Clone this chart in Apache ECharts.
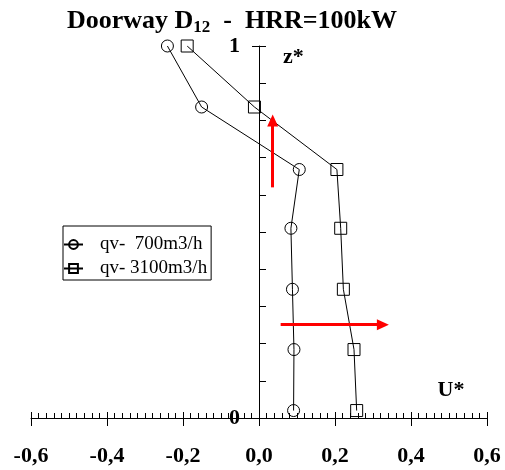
<!DOCTYPE html>
<html>
<head>
<meta charset="utf-8">
<script src="https://cdn.jsdelivr.net/npm/echarts@6/dist/echarts.min.js"></script>
<style>
  html, body { margin: 0; padding: 0; background: #fff; }
  #chart { width: 505px; height: 470px; }
</style>
</head>
<body>
<div id="chart"></div>
<script>
// heights (z*) shared by both profiles
const zLevels = [1.0, 0.836, 0.668, 0.51, 0.346, 0.184, 0.02];
const u700 = [-0.241, -0.151, 0.106, 0.084, 0.088, 0.092, 0.091];
const u3100 = [-0.189, -0.012, 0.205, 0.215, 0.222, 0.25, 0.257];
const seriesNames = ['qv-  700m3/h', 'qv- 3100m3/h'];
// red annotation arrows, [start, end] in data coords
const arrowUp = [[0.036, 0.62], [0.036, 0.80]];
const arrowRight = [[0.057, 0.251], [0.326, 0.251]];

const FONT = '"Liberation Serif", "Times New Roman", serif';

const toPairs = (us) => us.map((u, i) => [u, zLevels[i]]);
const toArrow = (a) => [{ coord: a[0] }, { coord: a[1] }];

const fmtX = (v) => {
  const val = Math.abs(v) < 1e-9 ? 0 : v;
  return val.toFixed(1).replace('.', ',');
};

// grid is 456px wide for -0.6..0.6, so U=0 sits 228px in from the left edge
const Z_AXIS_SHIFT = -228;

const chart = echarts.init(document.getElementById('chart'));

const hollow = {
  color: 'rgba(0,0,0,0)',
  borderColor: '#000',
  borderWidth: 1
};

chart.setOption({
  animation: false,
  backgroundColor: '#fff',
  title: {
    left: 67,
    top: 6,
    padding: 0,
    text: '{a|Doorway D}{s|12}{a|  -  HRR=100kW}',
    textStyle: {
      rich: {
        a: { fontFamily: FONT, fontWeight: 'bold', fontSize: 26, lineHeight: 30, color: '#000' },
        s: { fontFamily: FONT, fontWeight: 'bold', fontSize: 17, lineHeight: 20, verticalAlign: 'bottom', color: '#000' }
      }
    }
  },
  legend: {
    left: 63,
    top: 226,
    orient: 'vertical',
    borderColor: '#000',
    borderWidth: 1,
    borderRadius: 0,
    padding: [9, 4, 2, 0],
    itemGap: 5,
    itemWidth: 19,
    itemHeight: 11,
    selectedMode: false,
    textStyle: { fontFamily: FONT, fontSize: 19, color: '#000', padding: [0, 0, 0, 12] },
    data: seriesNames
  },
  grid: { left: 31, right: 18, top: 46, bottom: 52, outerBoundsMode: 'none' },
  xAxis: [
    {
      type: 'value',
      position: 'bottom',
      min: -0.6,
      max: 0.6,
      interval: 0.2,
      name: 'U*',
      nameLocation: 'end',
      nameGap: -36,
      nameMoveOverlap: false,
      nameTextStyle: {
        fontFamily: FONT, fontWeight: 'bold', fontSize: 22, color: '#000',
        align: 'center', verticalAlign: 'bottom', padding: [0, 0, 17, 0]
      },
      axisLine: { onZero: true, lineStyle: { color: '#000', width: 1 } },
      axisTick: { inside: true, length: 6, lineStyle: { color: '#000' } },
      minorTick: { show: true, splitNumber: 10, length: 5, lineStyle: { color: '#000' } },
      splitLine: { show: false },
      axisLabel: {
        margin: 27,
        fontFamily: FONT, fontWeight: 'bold', fontSize: 22, color: '#000',
        formatter: fmtX
      }
    },
    {
      // major ticks hanging below the axis line
      type: 'value',
      position: 'top',
      min: -0.6,
      max: 0.6,
      interval: 0.2,
      axisLine: { show: false, onZero: true },
      axisTick: { inside: true, length: 8, lineStyle: { color: '#000' } },
      splitLine: { show: false },
      axisLabel: { show: false }
    }
  ],
  yAxis: [
    {
      type: 'value',
      position: 'left',
      offset: Z_AXIS_SHIFT,
      min: 0,
      max: 1,
      interval: 0.1,
      name: 'z*',
      nameLocation: 'end',
      nameGap: -11,
      nameMoveOverlap: false,
      nameTextStyle: {
        fontFamily: FONT, fontWeight: 'bold', fontSize: 22, color: '#000',
        align: 'left', verticalAlign: 'middle', padding: [0, 0, 0, 24]
      },
      axisLine: { onZero: false, lineStyle: { color: '#000', width: 1 } },
      axisTick: { inside: true, length: 7, lineStyle: { color: '#000' } },
      splitLine: { show: false },
      axisLabel: {
        margin: 19,
        fontFamily: FONT, fontWeight: 'bold', fontSize: 22, color: '#000',
        formatter: (v) => (Math.abs(v) < 1e-9 ? '0' : Math.abs(v - 1) < 1e-9 ? '1' : '')
      }
    },
    {
      // outer tick at the top end of z*
      type: 'value',
      position: 'right',
      offset: Z_AXIS_SHIFT,
      min: 0,
      max: 1,
      interval: 1,
      axisLine: { show: false, onZero: false },
      axisTick: { inside: true, length: 7, lineStyle: { color: '#000' } },
      splitLine: { show: false },
      axisLabel: { show: false }
    }
  ],
  series: [
    {
      name: seriesNames[0],
      type: 'line',
      data: toPairs(u700),
      symbol: 'circle',
      symbolSize: 12,
      itemStyle: hollow,
      lineStyle: { color: '#000', width: 1 },
      emphasis: { disabled: true },
      markLine: {
        silent: true,
        symbol: ['none', 'triangle'],
        symbolSize: [11, 12],
        label: { show: false },
        lineStyle: { color: '#ff0000', width: 3, type: 'solid' },
        emphasis: { disabled: true },
        data: [toArrow(arrowUp), toArrow(arrowRight)]
      }
    },
    {
      name: seriesNames[1],
      type: 'line',
      data: toPairs(u3100),
      symbol: 'rect',
      symbolSize: 12,
      itemStyle: hollow,
      lineStyle: { color: '#000', width: 1 },
      emphasis: { disabled: true }
    }
  ]
});
</script>
</body>
</html>
